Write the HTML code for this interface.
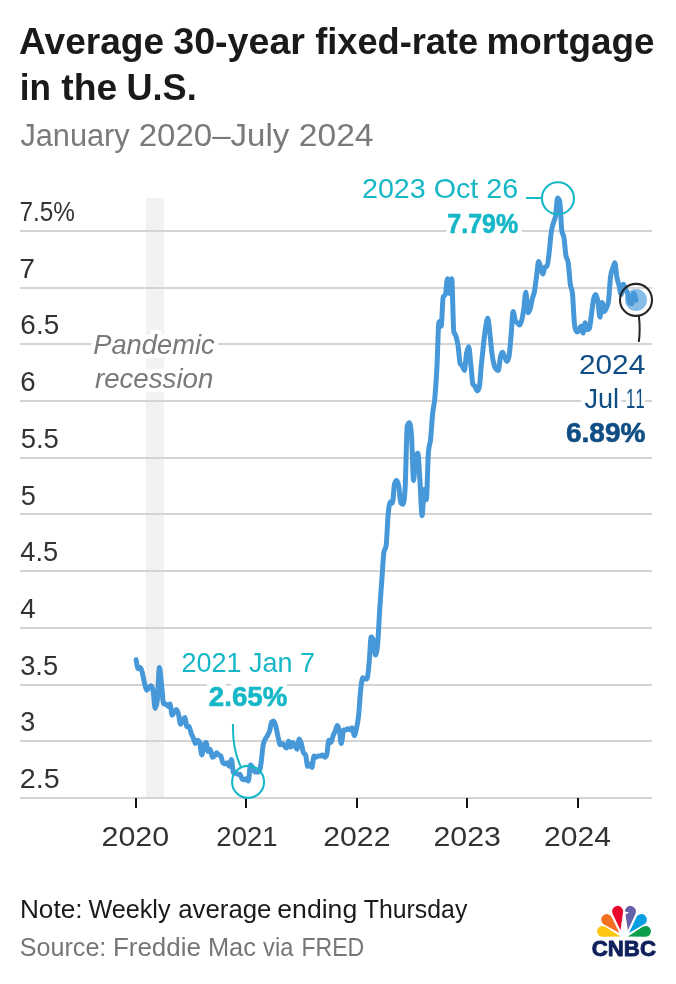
<!DOCTYPE html>
<html lang="en">
<head>
<meta charset="utf-8">
<title>Average 30-year fixed-rate mortgage in the U.S.</title>
<style>
html,body{margin:0;padding:0;background:#fff}
body{width:676px;height:984px;overflow:hidden;font-family:'Liberation Sans', Arial, Helvetica, sans-serif}
main,figure{margin:0;padding:0}
svg{display:block;position:absolute;left:0;top:0}
text{font-family:'Liberation Sans', Arial, Helvetica, sans-serif;white-space:pre}
.grid line{stroke:#d4d4d4;stroke-width:2;shape-rendering:crispEdges}
.ticks line{stroke:#111;stroke-width:2;shape-rendering:crispEdges}
.halo{filter:url(#halo)}
.series{fill:none;stroke:#4698d9;stroke-width:5;stroke-linejoin:round;stroke-linecap:round}
</style>
</head>
<body>
<main>
<figure>
<svg width="676" height="984" viewBox="0 0 676 984" role="img" aria-label="Line chart of the average 30-year fixed-rate mortgage in the U.S.">
<defs><filter id="halo" x="-20%" y="-40%" width="140%" height="180%" color-interpolation-filters="sRGB"><feMorphology in="SourceAlpha" operator="dilate" radius="4 3.6" result="d"/><feFlood flood-color="#fff" result="w"/><feComposite in="w" in2="d" operator="in" result="h"/><feMerge><feMergeNode in="h"/><feMergeNode in="SourceGraphic"/></feMerge></filter></defs>
<g class="header"><text y="54.10" font-size="36.0" fill="#1a1a1a" font-weight="bold"><tspan x="19.07" textLength="145.12" lengthAdjust="spacingAndGlyphs">Average</tspan> <tspan x="173.22" textLength="131.72" lengthAdjust="spacingAndGlyphs">30-year</tspan> <tspan x="315.20" textLength="163.02" lengthAdjust="spacingAndGlyphs">fixed-rate</tspan> <tspan x="486.54" textLength="168.07" lengthAdjust="spacingAndGlyphs">mortgage</tspan></text><text y="99.60" font-size="36.0" fill="#1a1a1a" font-weight="bold"><tspan x="19.76" textLength="31.23" lengthAdjust="spacingAndGlyphs">in</tspan> <tspan x="61.28" textLength="56.02" lengthAdjust="spacingAndGlyphs">the</tspan> <tspan x="126.54" textLength="70.18" lengthAdjust="spacingAndGlyphs">U.S.</tspan></text><text y="146.20" font-size="31.0" fill="#7a7a7a"><tspan x="20.40" textLength="109.33" lengthAdjust="spacingAndGlyphs">January</tspan> <tspan x="138.70" textLength="150.59" lengthAdjust="spacingAndGlyphs">2020–July</tspan> <tspan x="298.77" textLength="74.77" lengthAdjust="spacingAndGlyphs">2024</tspan></text></g>
<rect class="range" x="146" y="198" width="18" height="600" fill="#f2f2f2"/>
<g class="grid"><line x1="20" x2="652" y1="231.00" y2="231.00"/><line x1="20" x2="652" y1="288.00" y2="288.00"/><line x1="20" x2="652" y1="344.00" y2="344.00"/><line x1="20" x2="652" y1="401.00" y2="401.00"/><line x1="20" x2="652" y1="458.00" y2="458.00"/><line x1="20" x2="652" y1="514.00" y2="514.00"/><line x1="20" x2="652" y1="571.00" y2="571.00"/><line x1="20" x2="652" y1="628.00" y2="628.00"/><line x1="20" x2="652" y1="685.00" y2="685.00"/><line x1="20" x2="652" y1="741.00" y2="741.00"/><line x1="20" x2="652" y1="798.00" y2="798.00"/></g>
<g class="ticks"><line x1="135.80" x2="135.80" y1="798" y2="807.5"/><line x1="245.90" x2="245.90" y1="798" y2="807.5"/><line x1="357.10" x2="357.10" y1="798" y2="807.5"/><line x1="467.00" x2="467.00" y1="798" y2="807.5"/><line x1="577.90" x2="577.90" y1="798" y2="807.5"/></g>
<g class="ylabels"><text y="221.05" font-size="28" fill="#333"><tspan x="19.40" textLength="55.43" lengthAdjust="spacingAndGlyphs">7.5%</tspan></text><text y="277.75" font-size="28" fill="#333"><tspan x="19.18" textLength="15.76" lengthAdjust="spacingAndGlyphs">7</tspan></text><text y="334.45" font-size="28" fill="#333"><tspan x="20.35" textLength="38.87" lengthAdjust="spacingAndGlyphs">6.5</tspan></text><text y="391.15" font-size="28" fill="#333"><tspan x="20.37" textLength="15.40" lengthAdjust="spacingAndGlyphs">6</tspan></text><text y="447.85" font-size="28" fill="#333"><tspan x="20.67" textLength="38.29" lengthAdjust="spacingAndGlyphs">5.5</tspan></text><text y="504.55" font-size="28" fill="#333"><tspan x="20.69" textLength="15.13" lengthAdjust="spacingAndGlyphs">5</tspan></text><text y="561.25" font-size="28" fill="#333"><tspan x="20.37" textLength="37.95" lengthAdjust="spacingAndGlyphs">4.5</tspan></text><text y="617.95" font-size="28" fill="#333"><tspan x="20.36" textLength="15.40" lengthAdjust="spacingAndGlyphs">4</tspan></text><text y="674.65" font-size="28" fill="#333"><tspan x="20.13" textLength="37.94" lengthAdjust="spacingAndGlyphs">3.5</tspan></text><text y="731.35" font-size="28" fill="#333"><tspan x="20.14" textLength="14.95" lengthAdjust="spacingAndGlyphs">3</tspan></text><text y="788.05" font-size="28" fill="#333"><tspan x="19.76" textLength="39.84" lengthAdjust="spacingAndGlyphs">2.5</tspan></text></g>
<g class="xlabels"><text y="846.20" font-size="28" fill="#333"><tspan x="101.47" textLength="67.66" lengthAdjust="spacingAndGlyphs">2020</tspan></text><text y="846.20" font-size="28" fill="#333"><tspan x="216.33" textLength="61.24" lengthAdjust="spacingAndGlyphs">2021</tspan></text><text y="846.20" font-size="28" fill="#333"><tspan x="323.28" textLength="67.18" lengthAdjust="spacingAndGlyphs">2022</tspan></text><text y="846.20" font-size="28" fill="#333"><tspan x="433.48" textLength="67.42" lengthAdjust="spacingAndGlyphs">2023</tspan></text><text y="846.20" font-size="28" fill="#333"><tspan x="544.09" textLength="66.86" lengthAdjust="spacingAndGlyphs">2024</tspan></text></g>
<path class="series" d="M136.10,659.65C136.81,664.19 137.51,668.72 138.22,668.72C138.93,668.72 139.63,667.59 140.34,667.59C141.05,667.59 141.75,670.61 142.46,673.26C143.16,675.91 143.87,680.63 144.58,683.47C145.28,686.30 145.99,690.27 146.69,690.27C147.40,690.27 148.11,688.76 148.81,688.00C149.52,687.25 150.22,685.73 150.93,685.73C151.64,685.73 152.34,687.25 153.05,690.27C153.75,693.29 154.46,708.41 155.17,708.41C155.87,708.41 156.58,705.77 157.28,700.48C157.99,695.18 158.70,667.59 159.40,667.59C160.11,667.59 160.82,678.55 161.52,684.60C162.23,690.65 162.93,703.88 163.64,703.88C164.35,703.88 165.05,703.88 165.76,703.88C166.46,703.88 167.17,706.15 167.88,706.15C168.58,706.15 169.29,703.88 169.99,703.88C170.70,703.88 171.41,715.22 172.11,715.22C172.82,715.22 173.52,712.76 174.23,711.82C174.94,710.87 175.64,709.55 176.35,709.55C177.05,709.55 177.76,711.63 178.47,714.08C179.17,716.54 179.88,724.29 180.58,724.29C181.29,724.29 182.00,722.02 182.70,720.89C183.41,719.75 184.12,717.49 184.82,717.49C185.53,717.49 186.23,726.56 186.94,726.56C187.65,726.56 188.35,726.56 189.06,726.56C189.76,726.56 190.47,731.47 191.18,733.36C191.88,735.25 192.59,736.20 193.29,737.90C194.00,739.60 194.71,743.57 195.41,743.57C196.12,743.57 196.82,740.17 197.53,740.17C198.24,740.17 198.94,740.92 199.65,742.43C200.35,743.95 201.06,754.91 201.77,754.91C202.47,754.91 203.18,747.92 203.89,745.84C204.59,743.76 205.30,742.43 206.00,742.43C206.71,742.43 207.42,751.51 208.12,751.51C208.83,751.51 209.53,749.24 210.24,749.24C210.95,749.24 211.65,757.18 212.36,757.18C213.06,757.18 213.77,756.80 214.48,756.04C215.18,755.29 215.89,752.64 216.59,752.64C217.30,752.64 218.01,754.34 218.71,754.91C219.42,755.48 220.12,755.29 220.83,756.04C221.54,756.80 222.24,762.09 222.95,762.85C223.66,763.60 224.36,763.98 225.07,763.98C225.77,763.98 226.48,762.85 227.19,762.85C227.89,762.85 228.60,766.25 229.30,766.25C230.01,766.25 230.72,759.44 231.42,759.44C232.13,759.44 232.83,773.05 233.54,773.05C234.15,773.05 234.75,773.05 235.36,773.05C236.16,773.05 236.97,774.19 237.78,774.19C238.48,774.19 239.19,774.19 239.89,774.19C240.60,774.19 241.31,777.97 242.01,778.72C242.72,779.48 243.43,779.86 244.13,779.86C244.84,779.86 245.54,778.72 246.25,778.72C246.96,778.72 247.66,780.99 248.37,780.99C249.07,780.99 249.78,765.11 250.49,765.11C251.19,765.11 251.90,766.25 252.60,767.38C253.31,768.52 254.02,771.92 254.72,771.92C255.43,771.92 256.13,771.92 256.84,771.92C257.55,771.92 258.25,771.92 258.96,771.92C259.66,771.92 260.37,767.38 261.08,762.85C261.78,758.31 262.49,748.48 263.20,744.70C263.90,740.92 264.61,740.54 265.31,739.03C266.02,737.52 266.73,736.95 267.43,735.63C268.14,734.31 268.84,733.36 269.55,731.09C270.26,728.83 270.96,722.78 271.67,722.02C272.37,721.27 273.08,720.89 273.79,720.89C274.49,720.89 275.20,723.91 275.90,726.56C276.61,729.20 277.32,733.74 278.02,736.76C278.73,739.79 279.43,744.70 280.14,744.70C280.85,744.70 281.55,743.57 282.26,743.57C282.96,743.57 283.67,745.08 284.38,745.84C285.08,746.59 285.79,748.10 286.50,748.10C287.20,748.10 287.91,741.30 288.61,741.30C289.32,741.30 290.03,746.97 290.73,746.97C291.44,746.97 292.14,742.43 292.85,742.43C293.56,742.43 294.26,744.70 294.97,745.84C295.67,746.97 296.38,749.24 297.09,749.24C297.79,749.24 298.50,739.03 299.20,739.03C299.91,739.03 300.62,741.30 301.32,743.57C302.03,745.84 302.73,751.13 303.44,752.64C304.15,754.15 304.85,753.40 305.56,754.91C306.27,756.42 306.97,766.25 307.68,766.25C308.38,766.25 309.09,763.98 309.80,763.98C310.50,763.98 311.21,767.38 311.91,767.38C312.62,767.38 313.33,756.04 314.03,756.04C314.74,756.04 315.44,757.18 316.15,757.18C316.86,757.18 317.56,756.04 318.27,756.04C318.97,756.04 319.68,756.04 320.39,756.04C321.09,756.04 321.80,754.91 322.50,754.91C323.21,754.91 323.92,757.18 324.62,757.18C325.33,757.18 326.04,756.42 326.74,754.91C327.45,753.40 328.15,740.17 328.86,740.17C329.57,740.17 330.27,742.43 330.98,742.43C331.68,742.43 332.39,737.52 333.10,735.63C333.80,733.74 334.51,732.80 335.21,731.09C335.92,729.39 336.63,725.42 337.33,725.42C338.04,725.42 338.74,727.61 339.45,731.09C340.06,734.08 340.66,743.57 341.27,743.57C342.07,743.57 342.88,729.96 343.69,729.96C344.29,729.96 344.90,729.96 345.50,729.96C346.31,729.96 347.12,728.83 347.92,728.83C348.63,728.83 349.34,729.96 350.04,729.96C350.75,729.96 351.45,727.69 352.16,727.69C352.87,727.69 353.57,735.63 354.28,735.63C354.98,735.63 355.69,732.04 356.40,728.83C357.10,725.61 357.81,722.78 358.51,716.35C359.22,709.93 359.93,696.70 360.63,690.27C361.34,683.84 362.04,677.80 362.75,677.80C363.46,677.80 364.16,678.93 364.87,678.93C365.57,678.93 366.28,678.93 366.99,678.93C367.69,678.93 368.40,670.05 369.11,663.05C369.81,656.06 370.52,636.97 371.22,636.97C371.93,636.97 372.64,638.11 373.34,640.37C374.05,642.64 374.75,655.12 375.46,655.12C376.17,655.12 376.87,651.71 377.58,644.91C378.28,638.11 378.99,620.53 379.70,609.76C380.40,598.98 381.11,589.91 381.81,580.27C382.52,570.63 383.23,555.70 383.93,551.92C384.64,548.14 385.34,550.03 386.05,546.25C386.76,542.47 387.46,521.87 388.17,514.50C388.88,507.13 389.58,502.03 390.29,502.03C390.99,502.03 391.70,503.16 392.41,503.16C393.11,503.16 393.82,486.15 394.52,483.88C395.23,481.61 395.94,480.48 396.64,480.48C397.35,480.48 398.05,482.37 398.76,486.15C399.47,489.93 400.17,502.40 400.88,503.16C401.58,503.92 402.29,504.29 403.00,504.29C403.70,504.29 404.41,499.00 405.11,488.42C405.82,477.83 406.53,428.32 407.23,426.05C407.94,423.78 408.65,422.65 409.35,422.65C410.06,422.65 410.76,426.80 411.47,435.12C412.18,443.44 412.88,480.48 413.59,480.48C414.29,480.48 415.00,458.93 415.71,456.67C416.41,454.40 417.12,453.26 417.82,453.26C418.53,453.26 419.24,470.09 419.94,480.48C420.65,490.88 421.35,515.63 422.06,515.63C422.77,515.63 423.47,489.55 424.18,489.55C424.88,489.55 425.59,499.76 426.30,499.76C427.00,499.76 427.71,460.45 428.42,452.13C429.12,443.81 429.83,446.08 430.53,439.66C431.24,433.23 431.95,420.38 432.65,413.57C433.36,406.77 434.06,406.39 434.77,398.83C435.48,391.27 436.18,381.07 436.89,368.21C437.59,355.36 438.30,321.72 439.01,321.72C439.71,321.72 440.42,326.26 441.12,326.26C441.83,326.26 442.54,298.28 443.24,296.77C443.95,295.26 444.65,296.02 445.36,294.50C446.07,292.99 446.77,278.63 447.48,278.63C448.19,278.63 448.89,293.37 449.60,293.37C450.30,293.37 451.01,278.63 451.72,278.63C452.42,278.63 453.13,329.28 453.83,331.93C454.44,334.19 455.04,333.59 455.65,335.33C456.46,337.65 457.26,340.26 458.07,345.53C458.78,350.15 459.48,362.17 460.19,363.68C460.89,365.19 461.60,364.81 462.31,365.95C463.01,367.08 463.72,370.48 464.42,370.48C465.13,370.48 465.84,357.44 466.54,353.47C467.25,349.50 467.95,346.67 468.66,346.67C469.37,346.67 470.07,357.44 470.78,363.68C471.49,369.92 472.19,382.58 472.90,384.09C473.60,385.60 474.31,385.22 475.02,386.36C475.72,387.49 476.43,390.89 477.13,390.89C477.84,390.89 478.55,389.76 479.25,387.49C479.96,385.22 480.66,371.99 481.37,364.81C482.08,357.63 482.78,350.64 483.49,344.40C484.19,338.16 484.90,331.74 485.61,327.39C486.31,323.04 487.02,318.32 487.72,318.32C488.43,318.32 489.14,327.20 489.84,333.06C490.55,338.92 491.26,348.18 491.96,353.47C492.67,358.76 493.37,362.17 494.08,364.81C494.79,367.46 495.49,368.59 496.20,369.35C496.90,370.10 497.61,370.48 498.32,370.48C499.02,370.48 499.73,359.90 500.43,356.87C501.14,353.85 501.85,352.34 502.55,352.34C503.26,352.34 503.96,355.36 504.67,356.87C505.38,358.39 506.08,361.41 506.79,361.41C507.49,361.41 508.20,359.90 508.91,356.87C509.61,353.85 510.32,344.02 511.03,336.46C511.73,328.90 512.44,311.51 513.14,311.51C513.85,311.51 514.56,319.07 515.26,320.59C515.97,322.10 516.67,322.10 517.38,322.85C518.09,323.61 518.79,325.12 519.50,325.12C520.20,325.12 520.91,323.23 521.62,320.59C522.32,317.94 523.03,313.97 523.73,309.25C524.44,304.52 525.15,292.24 525.85,292.24C526.56,292.24 527.26,312.65 527.97,312.65C528.68,312.65 529.38,311.51 530.09,309.25C530.80,306.98 531.50,301.88 532.21,299.04C532.91,296.21 533.62,295.83 534.33,292.24C535.03,288.64 535.74,282.60 536.44,277.49C537.15,272.39 537.86,261.62 538.56,261.62C539.27,261.62 539.97,265.21 540.68,267.29C541.39,269.37 542.09,274.09 542.80,274.09C543.50,274.09 544.21,268.04 544.92,267.29C545.62,266.53 546.33,266.91 547.03,266.15C547.74,265.40 548.45,258.22 549.15,252.55C549.86,246.88 550.57,237.05 551.27,232.13C551.98,227.22 552.68,225.71 553.39,223.06C554.10,220.42 554.80,220.42 555.51,216.26C556.21,212.10 556.92,198.11 557.63,198.11C558.33,198.11 559.04,199.25 559.74,201.52C560.45,203.78 561.16,226.46 561.86,231.00C562.57,235.54 563.27,233.27 563.98,237.80C564.59,241.69 565.19,250.84 565.80,254.81C566.60,260.11 567.41,257.46 568.22,262.75C568.92,267.38 569.63,279.19 570.33,284.30C571.04,289.40 571.75,287.32 572.45,293.37C573.16,299.42 573.87,320.59 574.57,325.12C575.28,329.66 575.98,331.93 576.69,331.93C577.40,331.93 578.10,331.55 578.81,330.79C579.51,330.04 580.22,326.26 580.93,326.26C581.63,326.26 582.34,333.06 583.04,333.06C583.75,333.06 584.46,322.85 585.16,322.85C585.87,322.85 586.57,329.66 587.28,329.66C587.99,329.66 588.69,329.28 589.40,328.52C590.10,327.77 590.81,318.70 591.52,313.78C592.22,308.87 592.93,302.06 593.64,299.04C594.34,296.02 595.05,294.50 595.75,294.50C596.46,294.50 597.17,297.53 597.87,301.31C598.58,305.09 599.28,317.18 599.99,317.18C600.70,317.18 601.40,302.44 602.11,302.44C602.81,302.44 603.52,311.51 604.23,311.51C604.93,311.51 605.64,309.81 606.34,308.11C607.05,306.41 607.76,305.84 608.46,301.31C609.17,296.77 609.87,281.65 610.58,276.36C611.29,271.07 611.99,270.69 612.70,268.42C613.41,266.15 614.11,262.75 614.82,262.75C615.52,262.75 616.23,273.71 616.94,277.49C617.64,281.27 618.35,282.60 619.05,285.43C619.76,288.27 620.47,294.50 621.17,294.50C621.88,294.50 622.58,284.30 623.29,284.30C624.00,284.30 624.70,287.32 625.41,288.83C626.11,290.35 626.82,291.10 627.53,293.37C628.23,295.64 628.94,301.69 629.64,302.44C630.35,303.20 631.06,303.58 631.76,303.58C632.37,303.58 632.97,293.37 633.58,293.37C634.39,293.37 635.19,296.77 636.00,300.17"/>
<circle cx="636.00" cy="299.92" r="11" fill="#4698d9" fill-opacity="0.65"/>
<g class="annotations">
<g fill="none" stroke="#16b7c7" stroke-width="2.1">
<circle cx="557.93" cy="198.31" r="16"/>
<line x1="526" y1="198" x2="541.63" y2="198" shape-rendering="crispEdges"/>
<circle cx="248.07" cy="781.89" r="16"/>
<path d="M233.0,724 Q232.4,750 241.0,767.0" stroke-width="2"/>
</g>
<g fill="none" stroke="#262626" stroke-width="2.1">
<circle cx="636.00" cy="299.92" r="16"/>
<path d="M638.90,315.77 Q640.5,330 638.8,341.8" stroke-width="2"/>
</g>
<text y="353.80" font-size="28" fill="#7a7a7a" font-style="italic" class="halo"><tspan x="93.22" textLength="121.43" lengthAdjust="spacingAndGlyphs">Pandemic</tspan></text><text y="388.20" font-size="28" fill="#7a7a7a" font-style="italic" class="halo"><tspan x="94.91" textLength="118.52" lengthAdjust="spacingAndGlyphs">recession</tspan></text><text y="198.00" font-size="28" fill="#16b7c7" class="halo"><tspan x="361.96" textLength="156.27" lengthAdjust="spacingAndGlyphs">2023 Oct 26</tspan></text><text y="232.60" font-size="28" fill="#16b7c7" font-weight="bold" class="halo" stroke="#16b7c7" stroke-width="0.6" stroke-linejoin="round"><tspan x="447.28" textLength="70.99" lengthAdjust="spacingAndGlyphs">7.79%</tspan></text><text y="672.20" font-size="28" fill="#16b7c7" class="halo"><tspan x="181.56" textLength="133.41" lengthAdjust="spacingAndGlyphs">2021 Jan 7</tspan></text><text y="706.20" font-size="28" fill="#16b7c7" font-weight="bold" class="halo" stroke="#16b7c7" stroke-width="0.6" stroke-linejoin="round"><tspan x="208.81" textLength="78.53" lengthAdjust="spacingAndGlyphs">2.65%</tspan></text><text y="373.70" font-size="28" fill="#0f4d84" class="halo"><tspan x="578.90" textLength="66.34" lengthAdjust="spacingAndGlyphs">2024</tspan></text><text y="408.20" font-size="28" fill="#0f4d84" class="halo"><tspan x="584.52" textLength="34.62" lengthAdjust="spacingAndGlyphs">Jul</tspan> <tspan x="625.91" textLength="9.28" lengthAdjust="spacingAndGlyphs">1</tspan><tspan x="635.52" textLength="9.15" lengthAdjust="spacingAndGlyphs">1</tspan></text><text y="442.30" font-size="28" fill="#0f4d84" font-weight="bold" class="halo" stroke="#0f4d84" stroke-width="0.6" stroke-linejoin="round"><tspan x="566.00" textLength="79.45" lengthAdjust="spacingAndGlyphs">6.89%</tspan></text>
</g>
<g class="footer"><text y="918.40" font-size="25.4" fill="#1a1a1a"><tspan x="19.94" textLength="62.60" lengthAdjust="spacingAndGlyphs">Note:</tspan> <tspan x="88.45" textLength="82.11" lengthAdjust="spacingAndGlyphs">Weekly</tspan> <tspan x="178.28" textLength="93.17" lengthAdjust="spacingAndGlyphs">average</tspan> <tspan x="277.25" textLength="80.01" lengthAdjust="spacingAndGlyphs">ending</tspan> <tspan x="363.81" textLength="103.51" lengthAdjust="spacingAndGlyphs">Thursday</tspan></text><text y="956.00" font-size="25.4" fill="#767676"><tspan x="19.76" textLength="86.59" lengthAdjust="spacingAndGlyphs">Source:</tspan> <tspan x="112.96" textLength="87.98" lengthAdjust="spacingAndGlyphs">Freddie</tspan> <tspan x="207.90" textLength="48.04" lengthAdjust="spacingAndGlyphs">Mac</tspan> <tspan x="263.10" textLength="30.17" lengthAdjust="spacingAndGlyphs">via</tspan> <tspan x="301.38" textLength="62.86" lengthAdjust="spacingAndGlyphs">FRED</tspan></text></g>
<g class="logo"><path d="M620.63,936.56 L602.48,936.79 A5.40,5.40 0 1 1 605.31,926.83 Z" fill="#fdc70f"/><path d="M619.39,933.08 L604.08,924.38 A5.51,5.51 0 1 1 611.76,917.20 Z" fill="#f37021"/><path d="M620.51,930.27 L612.62,913.75 A5.51,5.51 0 1 1 623.05,912.14 Z" fill="#e9062f"/><path d="M627.93,930.27 L625.08,912.24 A5.51,5.51 0 1 1 635.53,913.67 Z" fill="#6661ab"/><path d="M629.06,933.08 L636.31,917.29 A5.51,5.51 0 1 1 644.08,924.35 Z" fill="#069fe1"/><path d="M627.82,936.56 L642.63,926.87 A5.40,5.40 0 1 1 645.52,936.79 Z" fill="#0a9e48"/><path d="M624.0,911.3 L629.2,912.6 L624.6,915.0 Z" fill="#fff"/>
<text y="955.70" font-size="22.6" fill="#0f1f5c" font-weight="bold" stroke="#0f1f5c" stroke-width="0.9" stroke-linejoin="round"><tspan x="591.72" textLength="64.25" lengthAdjust="spacingAndGlyphs">CNBC</tspan></text>
</g>
</svg>
</figure>
</main>
</body>
</html>
